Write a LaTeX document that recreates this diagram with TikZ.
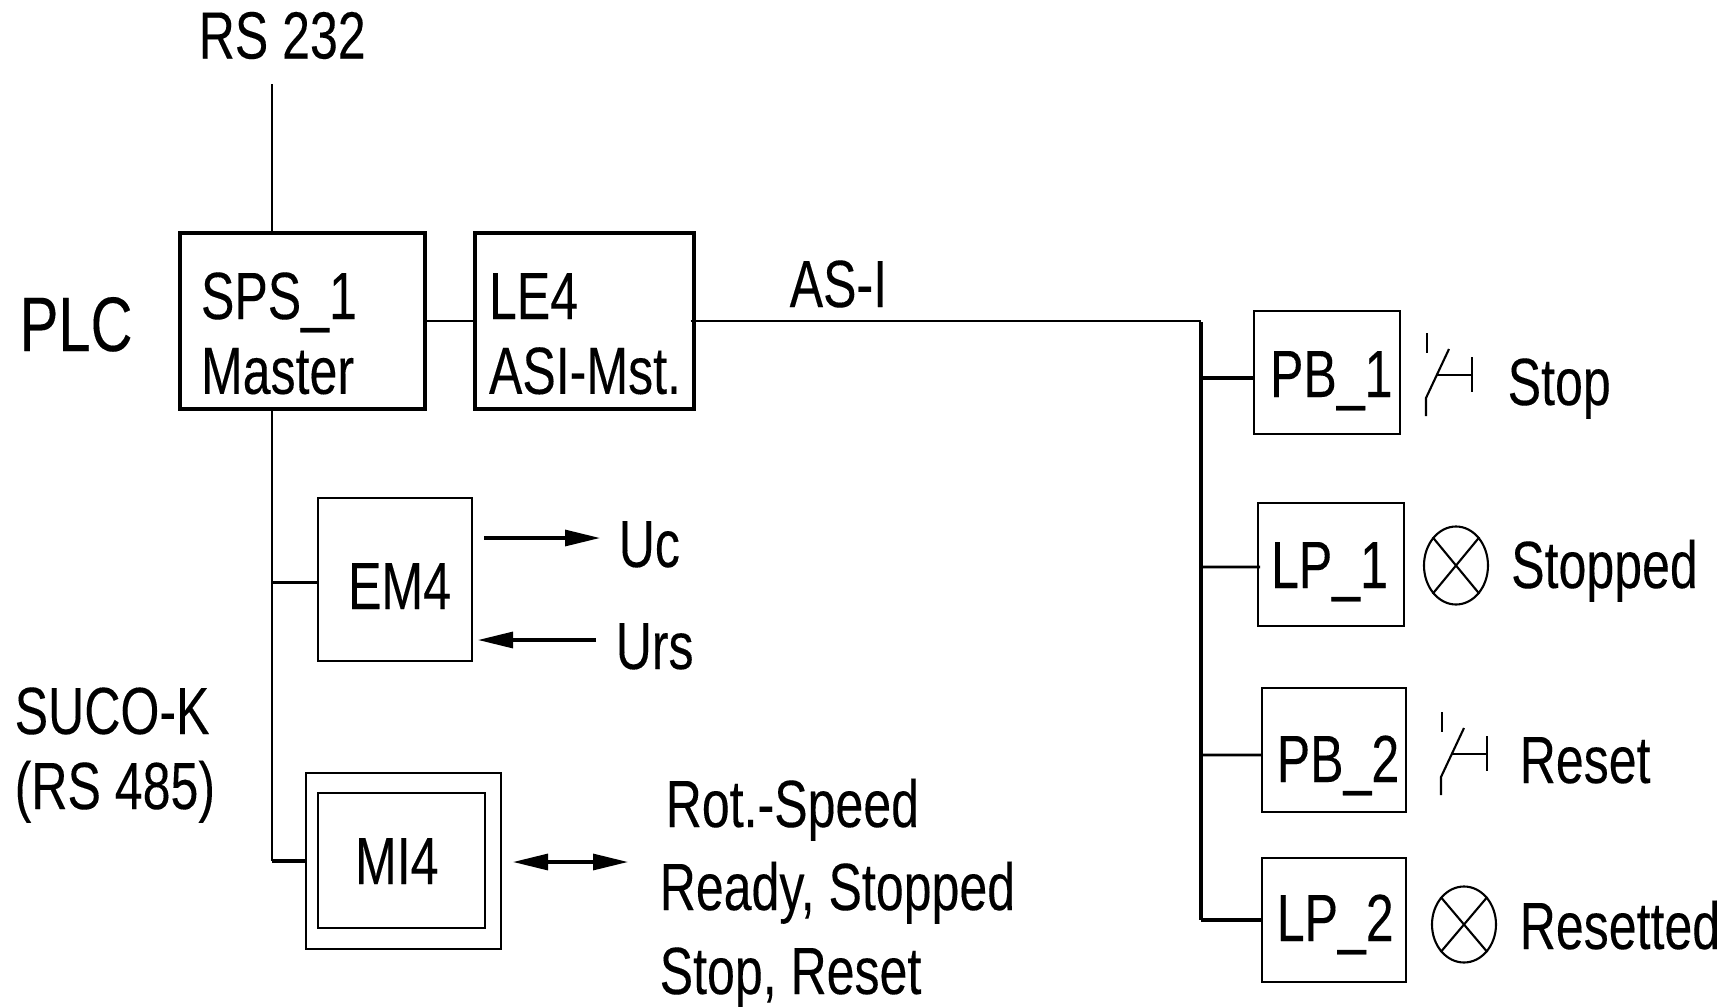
\documentclass[tikz,border=0pt]{standalone}
\usepackage{fontspec}
\setmainfont[FakeStretch=0.75, FakeBold=0.15]{Liberation Sans}
\usetikzlibrary{
  arrows.meta,
  shapes.geometric
}
\tikzset{
  boxnode/.style    = {draw, line width = 0.55pt, align = left, inner ysep = 0pt, text depth = 0pt, font = \fontsize{19}{21.3}\selectfont},
  textlabel/.style  = {anchor = base west, inner sep = 0pt, font = \fontsize{19}{21.3}\selectfont},
  wire/.style       = {line width = 0.6pt},
  buswire/.style    = {line width = 1.1pt},
  sigarrow/.style   = {line width = 0.9pt, -{Triangle[length = 3.5mm, width = 1.6mm]}},
  lampnode/.style   = {draw, ellipse, line width = 0.6pt, inner sep = 0pt, minimum width = 0.64cm},
  pushbutton/.pic   = {
    \draw [line width = 0.8pt] (0.00,  0.00) -- (0.00, -0.20);
    \draw [line width = 0.6pt] (0.22, -0.16) -- (-0.01, -0.65) -- (-0.01, -0.83);
    \draw [line width = 0.6pt] (0.10, -0.42) -- (0.45, -0.42);
    \draw [line width = 0.6pt] (0.45, -0.24) -- (0.45, -0.59);
  }
}

\begin{document}
\begin{tikzpicture}[scale=1]
  \useasboundingbox (0, 0) rectangle (17.31, 10.06);

  % PLC boxes
  \node [boxnode, line width = 0.9pt, inner xsep = 0.21cm, text width = 2.03cm, minimum height = 1.76cm, text height = 0.66cm, text depth = 0.7cm] (sps) at (3.025, 6.85) {SPS\_1\\Master};
  \node [boxnode, line width = 0.9pt, inner xsep = 0.14cm, text width = 1.91cm, minimum height = 1.76cm, text height = 0.66cm, text depth = 0.7cm] (le4) at (5.845, 6.85) {LE4\\\mbox{ASI-Mst.}};

  % SUCO-K boxes
  \node [boxnode, inner xsep = 0.30cm, text width = 0.94cm, minimum height = 1.63cm, text height = 0.59cm] (em4) at (3.95, 4.265) {EM4};
  \node [boxnode, inner xsep = 0cm, text width = 1.95cm, minimum height = 1.76cm] (mi4) at (4.035, 1.45) {};
  \node [boxnode, line width = 0.75pt, inner xsep = 0.37cm, text width = 0.93cm, minimum height = 1.35cm, text height = 0.47cm] (mi4in) at (4.015, 1.455) {MI4};

  % AS-I slaves
  \node [boxnode, inner xsep = 0.16cm, text width = 1.14cm, minimum height = 1.23cm, text height = 0.49cm] (pb1) at (13.27, 6.335) {PB\_1};
  \node [boxnode, inner xsep = 0.13cm, text width = 1.20cm, minimum height = 1.23cm, text height = 0.47cm] (lp1) at (13.31, 4.415) {LP\_1};
  \node [boxnode, inner xsep = 0.15cm, text width = 1.145cm, minimum height = 1.24cm, text height = 0.64cm] (pb2) at (13.34, 2.56) {PB\_2};
  \node [boxnode, inner xsep = 0.15cm, text width = 1.145cm, minimum height = 1.24cm, text height = 0.42cm] (lp2) at (13.34, 0.86) {LP\_2};

  % Lamps and push buttons
  \node [lampnode, minimum height = 0.78cm] (lamp1) at (14.56, 4.405) {};
  \node [lampnode, minimum height = 0.76cm] (lamp2) at (14.64, 0.815) {};
  \draw [wire] (lamp1.north west) -- (lamp1.south east);
  \draw [wire] (lamp1.south west) -- (lamp1.north east);
  \draw [wire] (lamp2.north west) -- (lamp2.south east);
  \draw [wire] (lamp2.south west) -- (lamp2.north east);
  \pic at (14.27, 6.73) {pushbutton};
  \pic at (14.42, 2.94) {pushbutton};

  % Free ends
  \coordinate (rstop)   at (2.72, 9.22);
  \coordinate (spsdrop) at (2.72, 5.00);
  \coordinate (bustop)  at (12.01, 6.84);
  \coordinate (ucfrom)  at (4.84, 4.68);
  \coordinate (ucto)    at (6.00, 4.68);
  \coordinate (ursfrom) at (5.96, 3.66);
  \coordinate (ursto)   at (4.78, 3.66);
  \coordinate (mileft)  at (5.13, 1.44);
  \coordinate (miright) at (6.28, 1.44);

  % Link the PLC
  \draw [wire] (rstop) -- (rstop |- sps.north);
  \draw [wire] (sps.east) -- (le4.west);
  \draw [wire] (spsdrop |- sps.south) -- (spsdrop |- mi4.west);
  \draw [wire, line width = 0.75pt] (spsdrop |- em4.west) ++(0, -0.03) -- ([yshift = -0.3mm]em4.west);
  \draw [buswire] (spsdrop |- mi4.west) -- (mi4.west);
  \draw [wire, line width = 0.75pt] ([xshift = -0.5mm]le4.east) -- (le4.east -| bustop);

  % AS-I bus
  \draw [buswire] (bustop) -- (bustop |- lp2.west);
  \draw [buswire] (bustop |- pb1.west) ++(0, -0.055) -- ([yshift = -0.55mm]pb1.west);
  \draw [wire, line width = 0.8pt] (bustop |- lp1.west) ++(0, -0.025) -- ([yshift = -0.25mm, xshift = 0.3mm]lp1.west);
  \draw [wire, line width = 0.8pt] (bustop |- pb2.west) ++(0, -0.05) -- ([yshift = -0.5mm]pb2.west);
  \draw [buswire] (bustop |- lp2.west) -- (lp2.west);

  % Signals
  \draw [sigarrow] (ucfrom) -- (ucto);
  \draw [sigarrow] (ursfrom) -- (ursto);
  \draw [sigarrow, {Triangle[length = 3.5mm, width = 1.6mm]}-{Triangle[length = 3.5mm, width = 1.6mm]}] (mileft) -- (miright);

  % Labels
  \node [textlabel] (rs232)  at (1.98, 9.475) {RS 232};
  \node [textlabel, font = \fontsize{22}{24}\selectfont] (plc) at (0.19, 6.55) {PLC};
  \node [textlabel] (suco)   at (0.14, 2.72) {SUCO-K};
  \node [textlabel] (rs485)  at (0.14, 1.97) {(RS 485)};
  \node [textlabel] (asi)    at (7.89, 6.99) {AS-I};
  \node [textlabel] (uc)     at (6.18, 4.39) {Uc};
  \node [textlabel] (urs)    at (6.15, 3.37) {Urs};
  \node [textlabel] (rot)    at (6.65, 1.79) {Rot.-Speed};
  \node [textlabel] (ready)  at (6.59, 0.96) {Ready, Stopped};
  \node [textlabel] (stopre) at (6.59, 0.12) {Stop, Reset};
  \node [textlabel] (stop)   at (15.07, 6.01) {Stop};
  \node [textlabel] (stopd)  at (15.105, 4.18) {Stopped};
  \node [textlabel] (reset)  at (15.19, 2.23) {Reset};
  \node [textlabel] (resetd) at (15.19, 0.57) {Resetted};
\end{tikzpicture}
\end{document}
